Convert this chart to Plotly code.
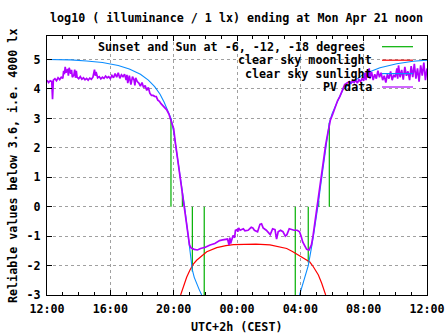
import plotly.graph_objects as go

# ---------------- data (hours since previous midnight; >24 = next day) -------------
x_tick_vals = [12, 16, 20, 24, 28, 32, 36]
x_tick_text = ["12:00", "16:00", "20:00", "00:00", "04:00", "08:00", "12:00"]
y_tick_vals = [-3, -2, -1, 0, 1, 2, 3, 4, 5]
y_tick_text = ["-3", "-2", "-1", "0", "1", "2", "3", "4", "5"]

# sunset / sun at -6, -12, -18 degrees (evening) and -18, -12, -6, sunrise (morning)
event_hours = [19.83, 20.55, 21.18, 21.93, 27.68, 28.50, 29.16, 29.83]
event_tops = [3.0, 0.5, -2.2, -3.0, -3.0, -1.9, 0.2, 2.85]

moon_hours = [20.44, 20.6, 20.82, 21.03, 21.24, 21.45, 21.66, 22.09, 22.72, 23.3, 23.77,
              24.5, 25.2, 26.08, 26.6, 27.14, 27.5, 27.98, 28.4, 28.6, 28.82, 29.0,
              29.14, 29.35, 29.56, 29.6]
moon_vals = [-3.0, -2.72, -2.4, -2.15, -1.95, -1.82, -1.72, -1.53, -1.39, -1.32, -1.29,
             -1.27, -1.27, -1.3, -1.35, -1.42, -1.52, -1.68, -1.8, -1.88, -2.04, -2.18,
             -2.32, -2.6, -2.94, -3.0]

sun_hours = [12.0, 13.5, 14.5, 15.5, 16.5, 17.2, 17.9, 18.4, 18.8, 19.14, 19.4, 19.6,
             19.83, 20.0, 20.2, 20.4, 20.55, 20.7, 20.85, 21.0, 21.1, 21.18, 21.3, 21.45,
             21.6, 21.77, None,
             27.95, 28.1, 28.3, 28.5, 28.6, 28.7, 28.82, 29.03, 29.16, 29.24, 29.45,
             29.66, 29.83, 30.0, 30.19, 30.4, 30.7, 30.95, 31.5, 31.98, 33.03, 34.09,
             35.13, 36.0]
sun_vals = [5.0, 4.99, 4.95, 4.9, 4.8, 4.68, 4.5, 4.3, 4.08, 3.82, 3.55, 3.3,
            3.0, 2.55, 1.85, 1.15, 0.55, -0.05, -0.7, -1.4, -1.85, -2.15, -2.4, -2.62,
            -2.8, -3.0, None,
            -3.0, -2.75, -2.37, -2.0, -1.75, -1.4, -1.02, -0.33, 0.2, 0.55, 1.37,
            2.25, 2.85, 3.15, 3.41, 3.64, 3.98, 4.1, 4.3, 4.5, 4.72, 4.86,
            4.94, 4.98]

pv_hours = [
    12.0, 12.1, 12.2, 12.3, 12.35, 12.4, 12.5, 12.6, 12.7, 12.8, 12.9, 13.0, 13.05, 13.1,
    13.15, 13.2, 13.3, 13.35, 13.4, 13.5, 13.55, 13.6, 13.7, 13.75, 13.8, 13.85, 13.9,
    14.0, 14.1, 14.2, 14.3, 14.4, 14.5, 14.6, 14.7, 14.8, 14.9, 15.0, 15.05, 15.1, 15.2,
    15.3, 15.4, 15.5, 15.6, 15.7, 15.8, 15.9, 16.0, 16.1, 16.2, 16.3, 16.4, 16.5, 16.6,
    16.7, 16.8, 16.9, 17.0, 17.05, 17.1, 17.2, 17.3, 17.4, 17.5, 17.55, 17.6, 17.7, 17.8,
    17.9, 18.0, 18.1, 18.2, 18.3, 18.4, 18.5, 18.6, 18.7, 18.8, 18.9, 19.0, 19.1, 19.2,
    19.3, 19.4, 19.55, 19.7, 19.8, 19.9, 20.0, 20.1, 20.2, 20.3, 20.4, 20.5, 20.6, 20.7,
    20.8, 20.9, 21.0, 21.1, 21.3, 21.5, 21.7, 22.0, 22.3, 22.6, 22.9, 23.1, 23.3, 23.4,
    23.5, 23.55, 23.6, 23.7, 23.75, 23.85, 23.9, 24.0, 24.05, 24.1, 24.2, 24.4, 24.5,
    24.7, 24.9, 25.0, 25.1, 25.3, 25.45, 25.55, 25.65, 25.85, 26.0, 26.1, 26.25, 26.4,
    26.5, 26.6, 26.75, 26.9, 27.05, 27.15, 27.3, 27.45, 27.6, 27.8, 27.95, 28.05, 28.15,
    28.3, 28.4, 28.55, 28.7, 28.8, 28.9, 29.0, 29.1, 29.2, 29.3, 29.4, 29.5, 29.6, 29.7,
    29.8, 29.9, 30.05, 30.2, 30.35, 30.5, 30.65, 30.8, 30.95, 31.1, 31.2, 31.3, 31.4,
    31.5, 31.6, 31.7, 31.8, 31.9, 32.0, 32.1, 32.15, 32.2, 32.3, 32.35, 32.4, 32.5, 32.6,
    32.7, 32.8, 32.9, 33.0, 33.1, 33.2, 33.3, 33.4, 33.5, 33.6, 33.7, 33.8, 33.9, 34.0,
    34.1, 34.15, 34.2, 34.3, 34.4, 34.5, 34.6, 34.7, 34.8, 34.9, 35.0, 35.1, 35.2, 35.3,
    35.4, 35.5, 35.6, 35.7, 35.8, 35.9, 36.0]
pv_vals = [
    4.30, 4.22, 4.28, 4.25, 3.65, 4.30, 4.35, 4.28, 4.38, 4.32, 4.40, 4.36, 4.62, 4.50,
    4.75, 4.55, 4.68, 4.45, 4.72, 4.52, 4.65, 4.40, 4.48, 4.66, 4.38, 4.62, 4.40,
    4.35, 4.42, 4.33, 4.38, 4.31, 4.36, 4.30, 4.37, 4.33, 4.40, 4.66, 4.45, 4.58, 4.38,
    4.42, 4.34, 4.40, 4.36, 4.44, 4.38, 4.42, 4.35, 4.46, 4.38, 4.52, 4.40, 4.55, 4.36,
    4.48, 4.42, 4.50, 4.30, 4.48, 4.20, 4.45, 4.15, 4.42, 4.30, 4.12, 4.38, 4.25, 4.20,
    4.10, 4.22, 4.05, 4.12, 3.95, 4.05, 3.85, 3.78, 3.78, 3.75, 3.74, 3.62, 3.58, 3.50,
    3.45, 3.40, 3.30, 3.15, 3.00, 2.80, 2.65, 2.20, 1.80, 1.40, 1.10, 0.75, 0.30, -0.10,
    -0.55, -0.95, -1.30, -1.40, -1.45, -1.47, -1.42, -1.38, -1.30, -1.25, -1.15, -1.13, -1.12, -1.10,
    -1.30, -1.05, -1.25, -1.10, -0.98, -1.05, -0.80, -0.78, -0.85, -0.72, -0.80, -0.75, -0.82,
    -0.80, -0.70, -0.72, -0.80, -0.85, -0.60, -0.58, -0.72, -0.80, -0.90, -0.95, -0.75, -0.78,
    -1.10, -0.85, -0.80, -0.85, -1.00, -0.95, -0.75, -0.78, -0.80, -0.80, -0.85, -1.00, -1.20,
    -1.35, -1.45, -1.47, -1.30, -1.00, -0.60, -0.30, 0.10, 0.50, 0.95, 1.30, 1.75, 2.10, 2.40,
    2.70, 2.95, 3.15, 3.40, 3.60, 3.75, 3.95, 4.15, 4.20, 4.25, 4.20, 4.28, 4.22,
    4.30, 4.20, 4.32, 4.25, 4.35, 4.28, 4.55, 4.30, 4.62, 4.40, 4.70, 4.35, 4.58, 4.30,
    4.50, 4.35, 4.62, 4.40, 4.55, 4.30, 4.45, 4.22, 4.50, 4.35, 4.60, 4.30, 4.48, 4.40,
    4.70, 4.35, 4.80, 4.40, 4.65, 4.32, 4.75, 4.45, 4.60, 4.30, 4.78, 4.40, 4.85, 4.35,
    4.70, 4.25, 4.80, 4.45, 4.90, 4.30, 4.70]

legend_labels = ["Sunset and Sun at -6, -12, -18 degrees", "clear sky moonlight",
                 "clear sky sunlight", "PV data"]

# ---------------- styling ----------------
GREEN, RED, BLUE, PURPLE = "#00b000", "#ff0000", "#0a8cff", "#b000ff"
FONT = dict(family="DejaVu Sans Mono", size=11.7, color="black", weight="bold")
W, H = 447, 335
ML, MR, MT, MB = 47, 20, 36, 40
PW, PH = W - ML - MR, H - MT - MB


def px_x(p):
    return (p - ML) / PW


def px_y(p):
    return (H - MB - p) / PH


ev_x, ev_y = [], []
for h, top in zip(event_hours, event_tops):
    ev_x += [h, h, None]
    ev_y += [0, top, None]

fig = go.Figure()
fig.add_trace(go.Scatter(x=ev_x, y=ev_y, mode="lines", line=dict(color=GREEN, width=1.2),
                         name=legend_labels[0], showlegend=False))
fig.add_trace(go.Scatter(x=moon_hours, y=moon_vals, mode="lines", line=dict(color=RED, width=1.2),
                         name=legend_labels[1], showlegend=False))
fig.add_trace(go.Scatter(x=sun_hours, y=sun_vals, mode="lines", line=dict(color=BLUE, width=1.1),
                         name=legend_labels[2], showlegend=False, connectgaps=False))
fig.add_trace(go.Scatter(x=pv_hours, y=pv_vals, mode="lines", line=dict(color=PURPLE, width=1.7),
                         name=legend_labels[3], showlegend=False))

shapes = [
    # key area masks the grid (as gnuplot does)
    dict(type="rect", xref="paper", yref="paper", x0=px_x(100), x1=1, y0=px_y(93), y1=1,
         fillcolor="white", line=dict(width=0), layer="between"),
]
annotations = []
legend_colors = [GREEN, RED, BLUE, PURPLE]
row_y = [46.7, 60.2, 73.6, 87.0]
row_right = [367, 374, 374, 374]
for lab, col, ry, rr in zip(legend_labels, legend_colors, row_y, row_right):
    annotations.append(dict(xref="paper", yref="paper", x=px_x(rr), y=px_y(ry), text=lab,
                            showarrow=False, xanchor="right", yanchor="middle", font=FONT))
    shapes.append(dict(type="line", xref="paper", yref="paper", x0=px_x(382), x1=px_x(413),
                       y0=px_y(ry), y1=px_y(ry), line=dict(color=col, width=1.2), layer="above"))

annotations.append(dict(xref="paper", yref="paper", x=px_x(236), y=px_y(327),
                        text="UTC+2h (CEST)", showarrow=False, xanchor="center",
                        yanchor="middle", font=FONT))
annotations.append(dict(xref="paper", yref="paper", x=px_x(13), y=px_y(166),
                        text="Reliable values below 3.6, i.e. 4000 lx", showarrow=False,
                        xanchor="center", yanchor="middle", textangle=-90, font=FONT))

axis_common = dict(showline=True, linecolor="black", linewidth=1, mirror="allticks",
                   ticks="inside", ticklen=5, tickcolor="black", tickwidth=1,
                   showgrid=True, gridcolor="#a0a0a0", gridwidth=1, griddash="3px,3px",
                   zeroline=False, tickfont=FONT, tickmode="array", automargin=False)

fig.update_layout(
    template="none",
    width=W, height=H,
    margin=dict(l=ML, r=MR, t=MT, b=MB, pad=0, autoexpand=False),
    paper_bgcolor="white", plot_bgcolor="white",
    font=FONT,
    showlegend=False,
    title=dict(text="log10 ( illuminance / 1 lx) ending at Mon Apr 21 noon",
               x=236.5 / W, xanchor="center", y=1 - 18 / H, yanchor="middle",
               xref="container", yref="container", font=FONT),
    xaxis=dict(range=[12, 36], tickvals=x_tick_vals, ticktext=x_tick_text,
               ticklabelstandoff=3,
               minor=dict(tickmode="linear", tick0=12, dtick=1, ticks="inside", ticklen=3,
                          tickcolor="black", showgrid=False),
               **axis_common),
    yaxis=dict(range=[-3, 5.8], tickvals=y_tick_vals, ticktext=y_tick_text,
               ticklabelstandoff=3, **axis_common),
    shapes=shapes,
    annotations=annotations,
)

fig.write_html("out.html")
